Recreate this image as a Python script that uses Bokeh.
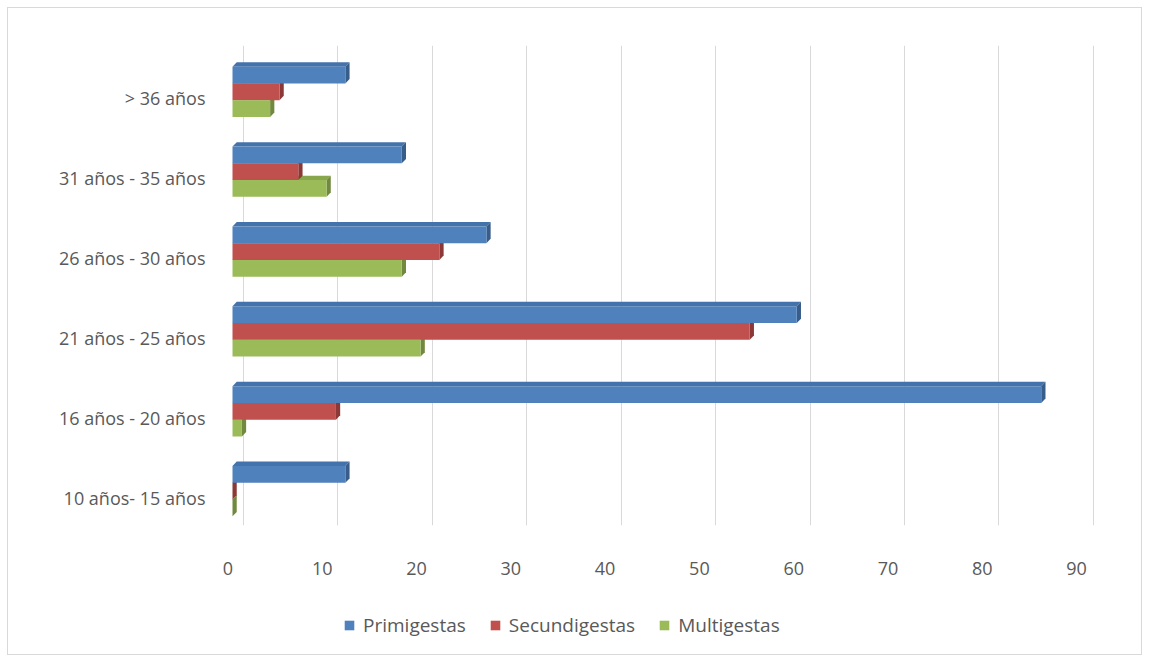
from bokeh.plotting import figure
from bokeh.models import Range1d, FixedTicker, Grid, Legend, LegendItem, LinearAxis
from bokeh.layouts import column
from bokeh.embed import file_html
from bokeh.resources import INLINE

# ---- data ----
categories = ["10 años- 15 años", "16 años - 20 años", "21 años - 25 años",
              "26 años - 30 años", "31 años - 35 años", "> 36 años"]
primigestas = [12, 86, 60, 27, 18, 12]
secundigestas = [0, 11, 55, 22, 7, 5]
multigestas = [0, 1, 20, 18, 10, 4]
series_names = ["Primigestas", "Secundigestas", "Multigestas"]
x_ticks = [0, 10, 20, 30, 40, 50, 60, 70, 80, 90]

# ---- styles ----
front_colors = ["#4F81BD", "#C0504D", "#9BBB59"]
side_colors = ["#385D8A", "#8C3836", "#71893F"]
top_colors = ["#4472AA", "#A94542", "#88A64C"]
offsets = [0.29, 0.08, -0.13]
bar_h = 0.21
dx, dy = 0.45, 0.055
FONT = "Open Sans"
FS = "18px"
TXT = "#595959"

p = figure(width=1133, height=592, output_backend="svg", toolbar_location=None,
           x_range=Range1d(-1.063, 92.3), y_range=Range1d(-0.35, 5.66),
           x_axis_location=None,
           min_border_left=214, min_border_right=41, min_border_top=37,
           min_border_bottom=75, outline_line_color=None)
p.grid.visible = False

# back-wall gridlines (shifted like the 3D wall) and front-plane tick labels
p.extra_x_ranges = {"wall": Range1d(-2.224, 90.75), "lab": Range1d(-0.583, 92.54)}
wall_grid = Grid(dimension=0, ticker=FixedTicker(ticks=x_ticks), x_range_name="wall",
                 grid_line_color="#d9d9d9", grid_line_width=1)
p.add_layout(wall_grid)
xax = LinearAxis(x_range_name="lab", ticker=FixedTicker(ticks=x_ticks))
p.add_layout(xax, "below")

series = [primigestas, secundigestas, multigestas]

# side and top faces first
for s in (2, 1, 0):
    vals = series[s]
    txs, tys, sxs, sys_ = [], [], [], []
    for i, v in enumerate(vals):
        y1 = i + offsets[s] + bar_h / 2
        y0 = i + offsets[s] - bar_h / 2
        txs.append([0, v, v + dx, dx])
        tys.append([y1, y1, y1 + dy, y1 + dy])
        sxs.append([v, v + dx, v + dx, v])
        sys_.append([y0, y0 + dy, y1 + dy, y1])
    p.patches(txs, tys, fill_color=top_colors[s], line_color=None)
    p.patches(sxs, sys_, fill_color=side_colors[s], line_color=None)

for s in range(3):
    ys = [i + offsets[s] for i in range(len(categories))]
    p.hbar(y=ys, right=series[s], left=0, height=bar_h,
           fill_color=front_colors[s], line_color=None)

# axes
p.yaxis.ticker = FixedTicker(ticks=list(range(len(categories))))
p.yaxis.major_label_overrides = {i: c for i, c in enumerate(categories)}
for ax in (xax, p.yaxis[0]):
    ax.axis_line_color = None
    ax.major_tick_line_color = None
    ax.minor_tick_line_color = None
    ax.major_label_text_font = FONT
    ax.major_label_text_font_size = FS
    ax.major_label_text_color = TXT
xax.major_label_standoff = 30
p.yaxis.major_label_standoff = 11

# legend strip
leg = figure(width=1133, height=54, output_backend="svg", toolbar_location=None,
             x_range=Range1d(0, 1), y_range=Range1d(0, 1),
             x_axis_location=None, y_axis_location=None,
             min_border=0, outline_line_color=None)
leg.grid.visible = False
leg_renderers = []
for s in range(3):
    # proxies outside the visible range, used only for the legend swatches
    r = leg.hbar(y=[-5] * len(series[s]), right=series[s], left=0, height=0.5,
                 fill_color=front_colors[s], line_color=None)
    leg_renderers.append(r)
legend = Legend(items=[LegendItem(label=n, renderers=[r]) for n, r in zip(series_names, leg_renderers)],
                orientation="horizontal", location=(121, 16),
                border_line_color=None, background_fill_alpha=0,
                label_text_font=FONT, label_text_font_size="19px", label_text_color=TXT,
                glyph_width=12, glyph_height=12, spacing=23, label_standoff=8,
                margin=0, padding=0)
leg.add_layout(legend)

lay = column(p, leg, spacing=0,
             styles={"margin": "7px", "border": "1px solid #d9d9d9"})

open("out.html", "w").write(file_html(lay, INLINE))
